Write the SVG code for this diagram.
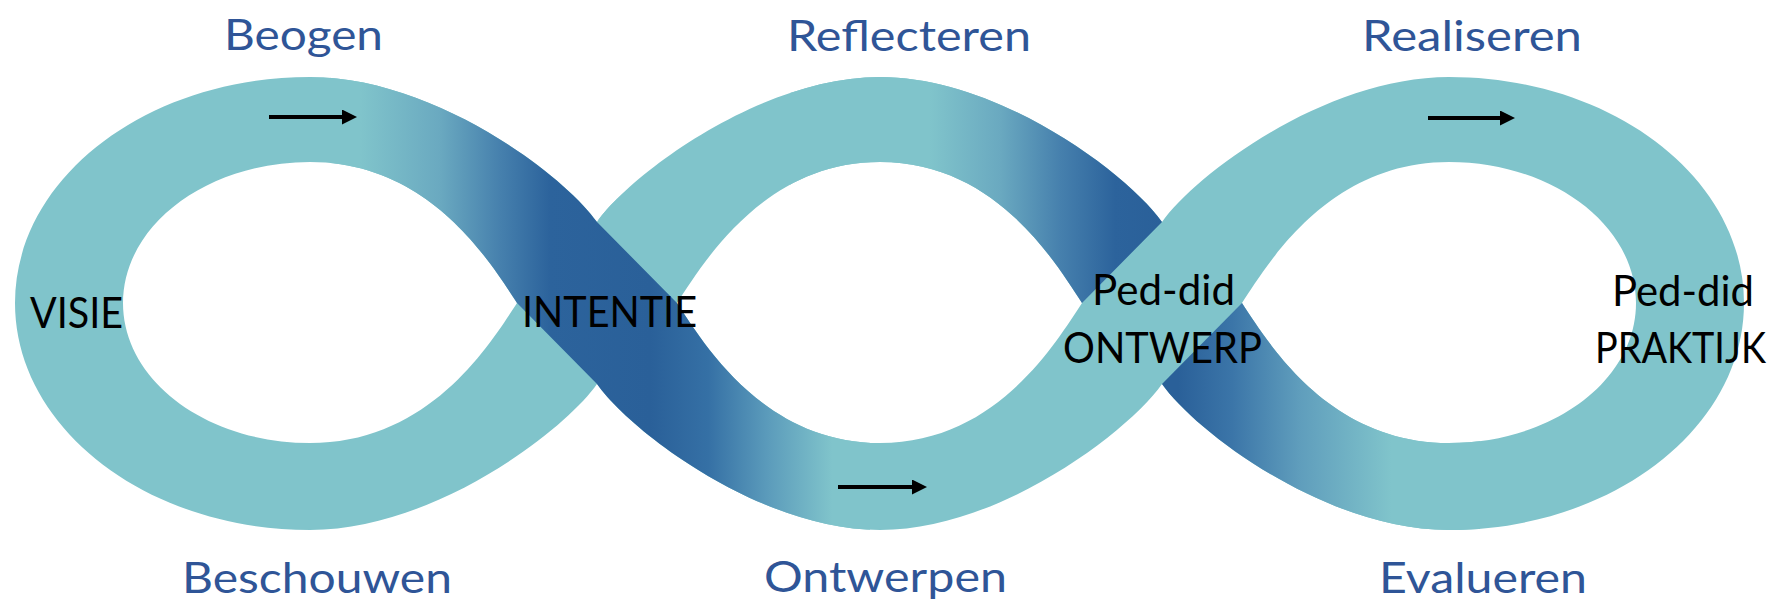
<svg xmlns="http://www.w3.org/2000/svg" width="1780" height="605" viewBox="0 0 1780 605">
<style>
.title{font-family:Lato,"Open Sans","Liberation Sans",sans-serif;font-size:43px;fill:#2f5597}
.lbl{font-family:Lato,"Open Sans","Liberation Sans",sans-serif;font-size:42px;fill:#000}
.arr{stroke:#000;stroke-width:4;fill:none}
</style>
<defs>
<path id="bandPath" d="M597,222 C630,175 760,77 880,77 C1000,77 1129,175 1162,222 C1195,175 1325,77 1449,77 C1612,77 1744,178 1744,303 C1744,428 1612,530 1449,530 C1325,530 1195,431 1162,384 C1129,431 1000,530 880,530 C760,530 630,431 597,384 C564,431 434,530 310,530 C147,530 15,428 15,303 C15,178 147,77 310,77 C434,77 564,175 597,222 Z M517,303 C490,262 430,162 310,162 C207,162 123,225 123,303 C123,381 207,443 310,443 C430,443 490,344 517,303 Z M677,303 C704,262 764,162 880,162 C996,162 1055,262 1082,303 C1055,344 996,443 880,443 C764,443 704,344 677,303 Z M1242,303 C1269,262 1329,162 1449,162 C1552,162 1636,225 1636,303 C1636,381 1552,443 1449,443 C1329,443 1269,344 1242,303 Z"/>
<clipPath id="band"><use href="#bandPath" clip-rule="evenodd"/></clipPath>
<linearGradient id="gA" gradientUnits="userSpaceOnUse" x1="330" y1="0" x2="870" y2="0">
<stop offset="0.056" stop-color="#80c4cb"/>
<stop offset="0.204" stop-color="#6aa9c0"/>
<stop offset="0.315" stop-color="#4680ad"/>
<stop offset="0.407" stop-color="#2c639c"/>
<stop offset="0.593" stop-color="#2a6099"/>
<stop offset="0.7" stop-color="#3570a5"/>
<stop offset="0.81" stop-color="#5b9bbb"/>
<stop offset="0.93" stop-color="#80c4cb"/>
</linearGradient>
<linearGradient id="gB1" gradientUnits="userSpaceOnUse" x1="790" y1="0" x2="1162" y2="0">
<stop offset="0.376" stop-color="#80c4cb"/>
<stop offset="0.565" stop-color="#6aa9c0"/>
<stop offset="0.726" stop-color="#4680ad"/>
<stop offset="0.874" stop-color="#2c639c"/>
<stop offset="1" stop-color="#2a6099"/>
</linearGradient>
<linearGradient id="gB2" gradientUnits="userSpaceOnUse" x1="1162" y1="0" x2="1480" y2="0">
<stop offset="0.05" stop-color="#2a6099"/>
<stop offset="0.22" stop-color="#3b75a8"/>
<stop offset="0.43" stop-color="#5f9dbc"/>
<stop offset="0.72" stop-color="#80c4cb"/>
</linearGradient>
<marker id="ah" markerUnits="userSpaceOnUse" markerWidth="16" markerHeight="16" refX="5" refY="7.5" orient="auto">
<path d="M0,0 L15,7.5 L0,15 Z" fill="#000"/>
</marker>
</defs>
<rect width="1780" height="605" fill="#fff"/>
<g id="ribbon">
<use href="#bandPath" fill="#80c4cb" fill-rule="evenodd"/>
<g clip-path="url(#band)">
<path d="M597,222 L597,0 L1162,0 L1162,222 L1082,303 L790,303 L790,0 Z" fill="url(#gB1)"/>
<path d="M1242,303 L1162,384 L1162,605 L1480,605 L1480,303 Z" fill="url(#gB2)"/>
<path d="M330,0 L597,0 L597,222 L677,303 L870,303 L870,605 L597,605 L597,384 L517,303 L330,303 Z" fill="url(#gA)"/>
</g>
</g>
<g id="connectors">
<line class="arr" x1="269" y1="117" x2="347" y2="117" marker-end="url(#ah)"/>
<line class="arr" x1="838" y1="487" x2="917" y2="487" marker-end="url(#ah)"/>
<line class="arr" x1="1428" y1="118" x2="1505" y2="118" marker-end="url(#ah)"/>
</g>
<g id="node-beogen"><text class="title" x="224" y="50" textLength="159" lengthAdjust="spacingAndGlyphs">Beogen</text></g>
<g id="node-reflecteren"><text class="title" x="787" y="51" textLength="244" lengthAdjust="spacingAndGlyphs">Reflecteren</text></g>
<g id="node-realiseren"><text class="title" x="1362" y="51" textLength="220" lengthAdjust="spacingAndGlyphs">Realiseren</text></g>
<g id="node-beschouwen"><text class="title" x="182" y="593" textLength="270" lengthAdjust="spacingAndGlyphs">Beschouwen</text></g>
<g id="node-ontwerpen"><text class="title" x="764" y="592" textLength="243" lengthAdjust="spacingAndGlyphs">Ontwerpen</text></g>
<g id="node-evalueren"><text class="title" x="1379" y="593" textLength="208" lengthAdjust="spacingAndGlyphs">Evalueren</text></g>
<g id="node-visie"><text class="lbl" x="30" y="328" textLength="93" lengthAdjust="spacingAndGlyphs">VISIE</text></g>
<g id="node-intentie"><text class="lbl" x="522" y="327" textLength="175" lengthAdjust="spacingAndGlyphs">INTENTIE</text></g>
<g id="node-ontwerp"><text class="lbl" x="1092" y="305" textLength="143" lengthAdjust="spacingAndGlyphs">Ped-did</text><text class="lbl" x="1063" y="363" textLength="199" lengthAdjust="spacingAndGlyphs">ONTWERP</text></g>
<g id="node-praktijk"><text class="lbl" x="1612" y="306" textLength="142" lengthAdjust="spacingAndGlyphs">Ped-did</text><text class="lbl" x="1595" y="363" textLength="171" lengthAdjust="spacingAndGlyphs">PRAKTIJK</text></g>
</svg>
